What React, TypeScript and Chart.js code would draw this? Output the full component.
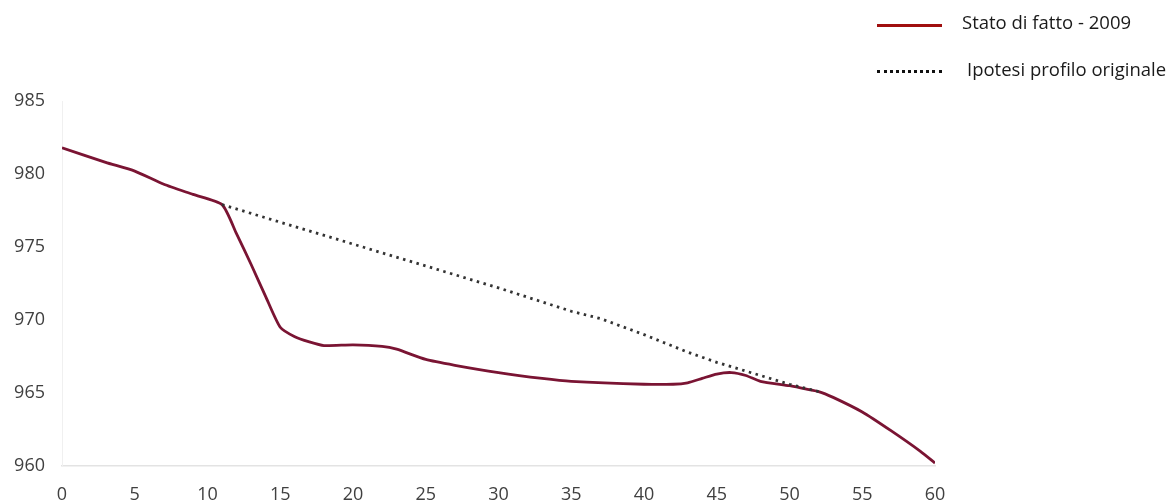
import React, { useEffect, useRef } from "react";
import { Chart, registerables } from "chart.js";

Chart.register(...registerables);

const xTicks = [0, 5, 10, 15, 20, 25, 30, 35, 40, 45, 50, 55, 60];
const yTicks = [960, 965, 970, 975, 980, 985];

const statoX = [0, 3, 5, 7, 9, 11, 12, 13, 14, 15, 16, 17, 18, 20, 22, 23, 25, 27, 30, 33, 35, 40, 42, 43, 44, 45, 46, 47, 48, 50, 51, 52, 53, 55, 57, 59, 60];
const statoY = [981.8, 980.8, 980.2, 979.3, 978.6, 977.9, 975.9, 973.8, 971.6, 969.5, 968.85, 968.5, 968.25, 968.3, 968.2, 968.0, 967.3, 966.9, 966.4, 966.0, 965.8, 965.6, 965.6, 965.7, 966.0, 966.3, 966.4, 966.2, 965.8, 965.5, 965.3, 965.1, 964.7, 963.7, 962.4, 961.0, 960.2];

const ipotesiX = [11, 16, 20, 25, 30, 35, 37, 40, 43, 45, 48, 50, 52];
const ipotesiY = [977.9, 976.4, 975.2, 973.7, 972.2, 970.6, 970.1, 969.0, 967.8, 967.1, 966.2, 965.6, 965.1];

const labels = ["Stato di fatto - 2009", "Ipotesi profilo originale"];

const FONT = "'Open Sans', sans-serif";

export default function App() {
  const ref = useRef<HTMLCanvasElement | null>(null);

  useEffect(() => {
    if (!ref.current) return;
    const chart = new Chart(ref.current, {
      type: "line",
      data: {
        datasets: [
          {
            label: labels[1],
            data: ipotesiX.map((x, i) => ({ x, y: ipotesiY[i] })),
            borderColor: "#333333",
            borderWidth: 2.8,
            borderDash: [2.5, 4.5],
            pointRadius: 0,
            tension: 0,
            fill: false,
          },
          {
            label: labels[0],
            data: statoX.map((x, i) => ({ x, y: statoY[i] })),
            borderColor: "#7a1433",
            borderWidth: 2.8,
            pointRadius: 0,
            tension: 0.2,
            fill: false,
          },
        ],
      },
      options: {
        animation: false,
        responsive: false,
        maintainAspectRatio: false,
        layout: { padding: { top: 101, right: 240, left: 0, bottom: 0 } },
        plugins: { legend: { display: false }, tooltip: { enabled: false } },
        scales: {
          x: {
            type: "linear",
            min: 0,
            max: 60,
            afterBuildTicks: (s: any) => {
              s.ticks = xTicks.map((v) => ({ value: v }));
            },
            afterFit: (s: any) => {
              s.height = 37;
            },
            grid: { display: false, drawTicks: false },
            border: { display: true, color: "#e3e3e3", width: 1.5 },
            ticks: {
              padding: 18,
              color: "#404040",
              font: { family: FONT, size: 18 },
              maxRotation: 0,
            },
          },
          y: {
            type: "linear",
            min: 960,
            max: 985,
            afterBuildTicks: (s: any) => {
              s.ticks = yTicks.map((v) => ({ value: v }));
            },
            afterFit: (s: any) => {
              s.width = 62;
            },
            grid: { display: false, drawTicks: false },
            border: { display: true, color: "#f0f0f0", width: 1 },
            ticks: {
              padding: 17,
              color: "#404040",
              font: { family: FONT, size: 18 },
            },
          },
        },
      },
    });
    return () => chart.destroy();
  }, []);

  const textStyle: React.CSSProperties = {
    position: "absolute",
    fontFamily: FONT,
    fontSize: 18.5,
    color: "#1a1a1a",
    whiteSpace: "nowrap",
    lineHeight: "24px",
  };

  return (
    <div
      style={{
        position: "fixed",
        left: 0,
        top: 0,
        width: 1175,
        height: 503,
        background: "#ffffff",
      }}
    >
      <canvas ref={ref} width={1175} height={503} style={{ display: "block" }} />
      <div
        style={{
          position: "absolute",
          left: 877,
          top: 24,
          width: 65,
          height: 0,
          borderTop: "3px solid #a00f0f",
        }}
      />
      <div style={{ ...textStyle, left: 962, top: 10 }}>{labels[0]}</div>
      <div
        style={{
          position: "absolute",
          left: 877,
          top: 70,
          width: 65,
          height: 0,
          borderTop: "3.5px dotted #111111",
        }}
      />
      <div style={{ ...textStyle, left: 967, top: 57 }}>{labels[1]}</div>
    </div>
  );
}
